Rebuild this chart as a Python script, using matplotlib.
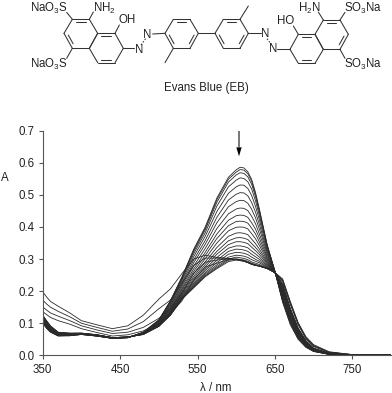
import matplotlib
matplotlib.use('Agg')
import matplotlib.pyplot as plt

plt.rcParams['font.family'] = ['Liberation Sans', 'DejaVu Sans']
plt.rcParams['mathtext.default'] = 'regular'

# Wavelengths the curves were read at
wl = [350, 355, 360, 370, 385, 400, 420, 440, 460, 480, 500, 515, 530, 545, 560, 575,
      590, 600, 605, 610, 615, 620, 625, 630, 640, 650, 660, 670, 680, 690, 700, 720, 750, 800]

# Curves with the falling peak near 610 nm, highest first
c00 = [.100, .084, .072, .060, .061, .065, .060, .053, .055, .072, .110, .170, .245, .330, .400, .490, .555, .578, .586, .584, .572, .548, .507, .455, .345, .262, .165, .095, .050, .025, .012, .003, .001, .000]
c01 = [.101, .085, .073, .061, .061, .065, .060, .053, .055, .072, .110, .169, .243, .327, .396, .485, .549, .571, .579, .577, .566, .542, .502, .451, .343, .262, .168, .098, .052, .026, .012, .003, .001, .000]
c02 = [.103, .086, .074, .061, .062, .065, .060, .053, .055, .071, .109, .167, .241, .323, .391, .477, .540, .562, .569, .567, .556, .533, .494, .445, .341, .262, .170, .100, .054, .027, .013, .003, .001, .000]
c03 = [.104, .088, .075, .062, .062, .065, .060, .053, .055, .071, .108, .165, .237, .316, .382, .465, .525, .546, .553, .551, .541, .518, .481, .435, .337, .262, .173, .103, .056, .028, .013, .003, .001, .000]
c04 = [.105, .089, .076, .062, .063, .066, .061, .053, .055, .070, .106, .161, .232, .307, .371, .448, .505, .525, .531, .530, .520, .498, .464, .422, .331, .261, .176, .106, .058, .029, .014, .004, .001, .000]
c05 = [.106, .090, .077, .063, .063, .066, .061, .053, .055, .070, .105, .158, .226, .297, .358, .430, .484, .502, .507, .506, .497, .476, .446, .407, .325, .261, .179, .109, .060, .030, .014, .004, .001, .000]
c06 = [.108, .091, .078, .064, .063, .066, .061, .054, .056, .070, .103, .154, .220, .288, .346, .413, .463, .479, .483, .482, .474, .455, .428, .393, .319, .261, .182, .112, .062, .032, .015, .004, .001, .000]
c07 = [.109, .092, .079, .064, .064, .066, .061, .054, .056, .069, .101, .151, .215, .278, .333, .395, .441, .456, .459, .458, .451, .433, .410, .378, .313, .260, .185, .115, .064, .033, .015, .004, .001, .000]
c08 = [.110, .094, .080, .065, .064, .067, .062, .054, .056, .069, .100, .147, .209, .269, .321, .378, .421, .435, .437, .436, .430, .413, .393, .365, .307, .260, .188, .118, .066, .034, .016, .004, .001, .000]
c09 = [.111, .095, .081, .065, .065, .067, .062, .054, .056, .068, .099, .144, .205, .261, .311, .364, .404, .417, .418, .417, .412, .396, .378, .353, .302, .260, .191, .121, .068, .035, .016, .004, .001, .000]
c10 = [.113, .096, .082, .066, .065, .067, .062, .054, .056, .068, .097, .141, .200, .254, .301, .350, .388, .399, .400, .399, .394, .379, .363, .342, .297, .259, .194, .124, .070, .036, .017, .005, .001, .000]
c11 = [.114, .097, .083, .067, .065, .067, .062, .054, .056, .068, .096, .138, .196, .246, .291, .336, .371, .381, .382, .380, .376, .362, .348, .331, .292, .259, .197, .127, .072, .037, .017, .005, .001, .000]
c12 = [.115, .098, .084, .067, .066, .067, .062, .054, .056, .067, .095, .136, .192, .240, .283, .324, .357, .366, .367, .365, .361, .348, .336, .322, .289, .259, .200, .130, .074, .038, .018, .005, .001, .000]
c13 = [.116, .100, .085, .068, .066, .068, .063, .054, .056, .067, .094, .134, .189, .234, .276, .315, .345, .354, .354, .352, .348, .337, .326, .314, .285, .259, .203, .133, .076, .039, .018, .005, .001, .000]
c14 = [.118, .101, .086, .068, .067, .068, .063, .055, .057, .067, .093, .132, .186, .229, .269, .305, .334, .341, .341, .339, .335, .325, .316, .306, .282, .259, .206, .135, .078, .040, .019, .005, .001, .000]
c15 = [.119, .102, .087, .069, .067, .068, .063, .055, .057, .066, .092, .130, .183, .224, .264, .296, .324, .331, .330, .328, .324, .315, .307, .299, .279, .258, .209, .137, .080, .041, .020, .005, .001, .000]
c16 = [.120, .103, .088, .070, .067, .068, .063, .055, .057, .066, .092, .129, .181, .220, .258, .289, .315, .321, .320, .318, .314, .306, .299, .293, .276, .258, .212, .139, .081, .042, .020, .006, .001, .000]
c17 = [.121, .104, .089, .070, .068, .068, .063, .055, .057, .066, .091, .127, .179, .217, .254, .282, .306, .312, .311, .309, .305, .298, .293, .288, .274, .258, .215, .141, .082, .043, .021, .006, .001, .000]
c18 = [.123, .106, .090, .071, .068, .069, .064, .055, .057, .065, .091, .126, .177, .214, .250, .277, .300, .306, .304, .302, .298, .291, .287, .283, .272, .258, .218, .143, .083, .044, .021, .006, .001, .000]
c19 = [.124, .107, .091, .071, .069, .069, .064, .055, .057, .065, .090, .125, .176, .212, .247, .273, .296, .301, .299, .297, .293, .287, .283, .280, .271, .258, .220, .145, .084, .045, .022, .006, .001, .000]
c20 = [.125, .108, .092, .072, .069, .069, .064, .055, .057, .065, .090, .125, .175, .210, .245, .270, .292, .297, .295, .293, .289, .283, .280, .278, .270, .258, .222, .145, .085, .046, .022, .006, .001, .000]

# Late curves with the raised UV end and the bump near 550 nm
t1 = [.198, .182, .168, .153, .132, .108, .095, .083, .092, .125, .175, .207, .255, .300, .312, .305, .302, .299, .297, .295, .290, .285, .281, .278, .272, .258, .238, .167, .102, .058, .033, .011, .002, .000]
t2 = [.172, .160, .150, .137, .120, .100, .087, .075, .082, .105, .145, .172, .225, .280, .303, .303, .302, .299, .297, .294, .290, .285, .281, .278, .271, .258, .235, .164, .100, .056, .031, .010, .002, .000]
t3 = [.151, .141, .132, .122, .108, .092, .079, .068, .072, .087, .115, .145, .195, .255, .290, .297, .300, .298, .296, .294, .289, .284, .281, .278, .271, .258, .232, .161, .098, .054, .029, .009, .002, .000]
t4 = [.136, .127, .118, .108, .097, .083, .071, .060, .064, .076, .100, .130, .170, .235, .275, .287, .298, .298, .296, .293, .289, .284, .280, .278, .270, .258, .229, .158, .095, .052, .027, .009, .002, .000]

curves = [c00, c01, c02, c03, c04, c05, c06, c07, c08, c09, c10, c11, c12, c13, c14, c15,
          c16, c17, c18, c19, c20, t1, t2, t3, t4]

x_ticks = [350, 450, 550, 650, 750]
y_ticks = [0.0, 0.1, 0.2, 0.3, 0.4, 0.5, 0.6, 0.7]

W, H = 392, 393
fig = plt.figure(figsize=(W / 100, H / 100), dpi=100)
ax = fig.add_axes([42.7 / W, 1 - 355.3 / H, 348.3 / W, 224.6 / H])

for c in curves:
    ax.plot(wl, c, color='#2a2a2a', lw=0.6)

ax.set_xlim(350, 800)
ax.set_ylim(0, 0.7)
ax.set_xticks(x_ticks)
ax.set_yticks(y_ticks)
ax.set_yticklabels(['%.1f' % v for v in y_ticks])
ax.tick_params(labelsize=8.3, length=3, width=0.8, color='#555555', labelcolor='#222222', pad=3)
ax.spines['top'].set_visible(False)
ax.spines['right'].set_visible(False)
ax.spines['left'].set_color('#555555')
ax.spines['bottom'].set_color('#555555')

# Overlay in 3x pixel units, for the labels and the structure above the plot
ov = fig.add_axes([0, 0, 1, 1])
ov.set_xlim(0, W * 3)
ov.set_ylim(H * 3, 0)
ov.axis('off')
ov.patch.set_alpha(0)

ov.text(15, 534, 'A', fontsize=8.3, color='#222222', ha='center', va='center')
ov.text(648, 1163, 'λ / nm', fontsize=8.3, color='#222222', ha='center', va='center')

# Arrow over the peak
ov.plot([717, 717], [393, 442], color='#777777', lw=1.4, solid_capstyle='butt')
ov.fill([709, 725, 717], [442, 442, 469], color='black', lw=0)


def bond(p, q, lw=0.75, ls='-'):
    ov.plot([p[0], q[0]], [p[1], q[1]], color='#333333', lw=lw, ls=ls, solid_capstyle='round')


def inner(p, q, ring):
    # Second line of a double bond, moved in toward the ring centre
    cx = sum(a[0] for a in ring) / len(ring)
    cy = sum(a[1] for a in ring) / len(ring)
    k = 0.2
    a = (p[0] + (q[0] - p[0]) * 0.14, p[1] + (q[1] - p[1]) * 0.14)
    b = (q[0] + (p[0] - q[0]) * 0.14, q[1] + (p[1] - q[1]) * 0.14)
    bond((a[0] + (cx - a[0]) * k, a[1] + (cy - a[1]) * k),
         (b[0] + (cx - b[0]) * k, b[1] + (cy - b[1]) * k))


def ring(pts, doubles):
    for i in range(len(pts)):
        bond(pts[i], pts[(i + 1) % len(pts)])
    for i in doubles:
        inner(pts[i], pts[(i + 1) % len(pts)], pts)


ring([(217, 58), (268, 58), (293, 100), (268, 145), (217, 145), (192, 100)], [0, 4])
ring([(293, 100), (345, 100), (370, 145), (345, 188), (293, 188), (268, 145)], [0, 3])
ring([(495, 100), (520, 58), (570, 58), (595, 100), (570, 145), (520, 145)], [1, 3, 5])
ring([(645, 100), (670, 58), (720, 58), (745, 100), (720, 145), (670, 145)], [1, 3, 5])
ring([(870, 148), (895, 103), (945, 103), (970, 148), (945, 190), (895, 190)], [1, 4])
ring([(945, 103), (970, 60), (1020, 60), (1045, 103), (1020, 148), (970, 148)], [1, 3])

single = [((217, 58), (200, 37)), ((268, 58), (280, 36)), ((345, 100), (358, 75)),
          ((370, 145), (402, 145)), ((458, 102), (495, 100)), ((520, 145), (495, 188)),
          ((595, 100), (645, 100)), ((720, 58), (745, 18)), ((745, 100), (782, 100)),
          ((832, 148), (870, 148)), ((895, 103), (880, 78)), ((970, 60), (955, 36)),
          ((1020, 60), (1035, 37)), ((1020, 148), (1035, 175)), ((217, 145), (200, 175))]
for p, q in single:
    bond(p, q)

bond((423, 135), (437, 116), ls=(0, (1.5, 1.5)))
bond((801, 116), (815, 135), ls=(0, (1.5, 1.5)))

labels = [(148, 24, 'NaO$_3$S'), (312, 24, 'NH$_2$'), (380, 60, 'OH'), (443, 105, 'N'),
          (418, 150, 'N'), (148, 194, 'NaO$_3$S'), (795, 103, 'N'), (820, 148, 'N'),
          (858, 62, 'HO'), (928, 24, 'H$_2$N'), (1090, 24, 'SO$_3$Na'), (1090, 194, 'SO$_3$Na')]
for x, y, s in labels:
    ov.text(x, y, s, fontsize=8.3, color='#222222', ha='center', va='center')

ov.text(620, 265, 'Evans Blue (EB)', fontsize=8.3, color='#222222', ha='center', va='center')

fig.savefig('out.png', dpi=100)
